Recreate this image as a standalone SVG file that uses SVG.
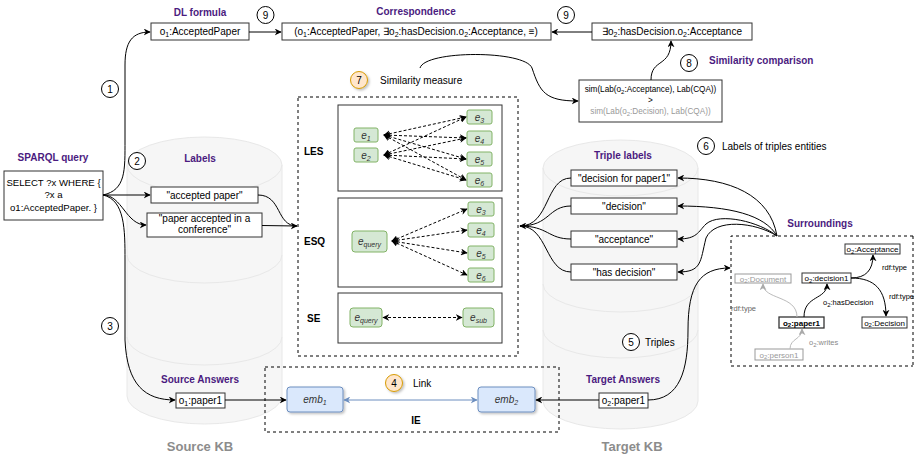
<svg xmlns="http://www.w3.org/2000/svg" width="915" height="462" viewBox="0 0 915 462">
<defs>
<marker id="a" viewBox="0 0 10 10" refX="9" refY="5" markerWidth="7" markerHeight="7" orient="auto-start-reverse"><path d="M0,0 L10,5 L0,10 L3,5 Z" fill="#000"/></marker>
<marker id="ag" viewBox="0 0 10 10" refX="9" refY="5" markerWidth="7" markerHeight="7" orient="auto-start-reverse"><path d="M0,0 L10,5 L0,10 L3,5 Z" fill="#aaa"/></marker>
<marker id="ab" viewBox="0 0 10 10" refX="9" refY="5" markerWidth="7" markerHeight="7" orient="auto-start-reverse"><path d="M0,0 L10,5 L0,10 L3,5 Z" fill="#6c8ebf"/></marker>
<filter id="sh" x="-20%" y="-20%" width="150%" height="150%"><feDropShadow dx="1.5" dy="1.5" stdDeviation="1" flood-opacity="0.25"/></filter>
</defs>
<style>
text{font-family:"Liberation Sans",Arial,sans-serif;font-size:10px;fill:#000}
.h{font-weight:bold;fill:#4b1b80}
.b{font-weight:bold}
.kb{font-weight:bold;font-size:13px;fill:#8c8c8c}
.box{fill:#fff;stroke:#333;stroke-width:1}
.gbox{fill:#fff;stroke:#999;stroke-width:1}
.cyl{fill:#f6f6f6;stroke:#e8e8e8;stroke-width:1}
.ring{fill:none;stroke:#e8e8e8;stroke-width:1}
.dash{fill:none;stroke:#000;stroke-width:1;stroke-dasharray:3,3}
.grn{fill:#d5e8d4;stroke:#82b366;stroke-width:1}
.blu{fill:#dae8fc;stroke:#6c8ebf;stroke-width:1}
.c{fill:#fff;stroke:#000;stroke-width:1}
.co{fill:#ffe6cc;stroke:#d79b00;stroke-width:1}
.e{font-style:italic;fill:#333}
.s{font-size:8px}
.t{font-size:7.5px}
.sim{font-size:8.2px}
.q{font-size:9.6px}
.g{fill:#999}
.ln{fill:none;stroke:#000;stroke-width:1}
.dl{fill:none;stroke:#000;stroke-width:1;stroke-dasharray:3,2}
.mid{text-anchor:middle}
</style>

<g id="source-kb">
<path class="cyl" d="M127,165 A77.5,28 0 0 1 282,165 L282,396 A77.5,28 0 0 1 127,396 Z"/>
<path class="ring" d="M127,165 A77.5,28 0 0 0 282,165"/>
<path class="ring" d="M127,255 A77.5,28 0 0 0 282,255"/>
<path class="ring" d="M127,337 A77.5,28 0 0 0 282,337"/>
<text class="kb mid" x="200" y="451">Source KB</text>
</g>
<g id="target-kb">
<path class="cyl" d="M543,168 A77.5,28 0 0 1 698,168 L698,401 A77.5,28 0 0 1 543,401 Z"/>
<path class="ring" d="M543,168 A77.5,28 0 0 0 698,168"/>
<path class="ring" d="M543,284 A77.5,28 0 0 0 698,284"/>
<path class="ring" d="M543,330 A77.5,28 0 0 0 698,330"/>
<text class="kb mid" x="632" y="451">Target KB</text>
</g>

<g id="dl-formula">
<text class="h mid" x="200" y="16">DL formula</text>
<rect class="box" x="151" y="23" width="98" height="17"/>
<text class="mid" x="200" y="35">o<tspan font-size="7" dy="2">1</tspan><tspan dy="-2">:AcceptedPaper</tspan></text>
</g>
<g id="correspondence">
<text class="h mid" x="416" y="15">Correspondence</text>
<rect class="box" x="282" y="23" width="269" height="17"/>
<text class="mid" x="416" y="35">(o<tspan font-size="7" dy="2">1</tspan><tspan dy="-2">:AcceptedPaper, ∃o</tspan><tspan font-size="7" dy="2">2</tspan><tspan dy="-2">:hasDecision.o</tspan><tspan font-size="7" dy="2">2</tspan><tspan dy="-2">:Acceptance, ≡)</tspan></text>
</g>
<g id="exists-formula">
<rect class="box" x="592" y="23" width="160" height="17"/>
<text class="mid" x="672" y="35">∃o<tspan font-size="7" dy="2">2</tspan><tspan dy="-2">:hasDecision.o</tspan><tspan font-size="7" dy="2">2</tspan><tspan dy="-2">:Acceptance</tspan></text>
</g>
<g id="similarity-comparison">
<text class="h" x="709" y="64">Similarity comparison</text>
<rect class="box" x="579" y="80" width="143" height="42"/>
<text class="mid sim" x="650.5" y="92">sim(Lab(o<tspan font-size="6" dy="1.5">2</tspan><tspan dy="-1.5">:Acceptance), Lab(CQA))</tspan></text>
<text class="mid sim" x="650.5" y="103">&gt;</text>
<text class="mid g sim" x="650.5" y="114">sim(Lab(o<tspan font-size="6" dy="1.5">2</tspan><tspan dy="-1.5">:Decision), Lab(CQA))</tspan></text>
</g>
<g id="sparql-query">
<text class="h mid" x="53" y="161">SPARQL query</text>
<rect class="box" x="4" y="171" width="99" height="49"/>
<text class="mid q" x="53.5" y="186">SELECT ?x WHERE {</text>
<text class="mid q" x="53.5" y="198">?x a</text>
<text class="mid q" x="53.5" y="211">o1:AcceptedPaper. }</text>
</g>
<g id="labels">
<text class="h mid" x="200" y="162">Labels</text>
<rect class="box" x="151" y="187" width="107" height="16"/>
<text class="mid" x="204.5" y="198.5">"accepted paper"</text>
<rect class="box" x="147" y="213" width="115" height="24"/>
<text class="mid" x="204.5" y="222">"paper accepted in a</text>
<text class="mid" x="204.5" y="233">conference"</text>
</g>
<g id="source-answers">
<text class="h mid" x="200" y="383">Source Answers</text>
<rect class="box" x="176" y="393" width="49" height="15"/>
<text class="mid" x="200.5" y="404">o<tspan font-size="7" dy="2">1</tspan><tspan dy="-2">:paper1</tspan></text>
</g>
<g id="similarity-measure">
<rect class="dash" x="298" y="97" width="220" height="259"/>
<g id="les">
<rect class="box" x="338" y="105" width="164" height="86"/>
<text class="b" x="304" y="155">LES</text>
<rect class="grn" x="354" y="128" width="24" height="14" rx="2"/>
<text class="e mid" x="366" y="138.5">e<tspan font-size="7" dy="2">1</tspan></text>
<rect class="grn" x="354" y="148" width="24" height="14" rx="2"/>
<text class="e mid" x="366" y="158.5">e<tspan font-size="7" dy="2">2</tspan></text>
<rect class="grn" x="467" y="110" width="25" height="14" rx="2"/>
<text class="e mid" x="479.5" y="120.5">e<tspan font-size="7" dy="2">3</tspan></text>
<rect class="grn" x="467" y="131" width="25" height="14" rx="2"/>
<text class="e mid" x="479.5" y="141.5">e<tspan font-size="7" dy="2">4</tspan></text>
<rect class="grn" x="467" y="152" width="25" height="14" rx="2"/>
<text class="e mid" x="479.5" y="162.5">e<tspan font-size="7" dy="2">5</tspan></text>
<rect class="grn" x="467" y="173" width="25" height="14" rx="2"/>
<text class="e mid" x="479.5" y="183.5">e<tspan font-size="7" dy="2">6</tspan></text>
</g>
<g id="esq">
<rect class="box" x="338" y="198" width="164" height="89"/>
<text class="b" x="304" y="245">ESQ</text>
<rect class="grn" x="352" y="231" width="35" height="21" rx="3"/>
<text class="e mid" x="369.5" y="244.5">e<tspan font-size="7" dy="2">query</tspan></text>
<rect class="grn" x="468" y="202" width="26" height="14" rx="2"/>
<text class="e mid" x="481" y="212.5">e<tspan font-size="7" dy="2">3</tspan></text>
<rect class="grn" x="468" y="223" width="26" height="14" rx="2"/>
<text class="e mid" x="481" y="233.5">e<tspan font-size="7" dy="2">4</tspan></text>
<rect class="grn" x="468" y="246" width="26" height="14" rx="2"/>
<text class="e mid" x="481" y="256.5">e<tspan font-size="7" dy="2">5</tspan></text>
<rect class="grn" x="468" y="268" width="26" height="14" rx="2"/>
<text class="e mid" x="481" y="278.5">e<tspan font-size="7" dy="2">6</tspan></text>
</g>
<g id="se">
<rect class="box" x="338" y="293" width="164" height="50"/>
<text class="b" x="307" y="322">SE</text>
<rect class="grn" x="350" y="308" width="32" height="19" rx="3"/>
<text class="e mid" x="366" y="320.5">e<tspan font-size="7" dy="2">query</tspan></text>
<rect class="grn" x="463" y="308" width="31" height="19" rx="3"/>
<text class="e mid" x="478.5" y="320.5">e<tspan font-size="7" dy="2">sub</tspan></text>
</g>
</g>
<g id="ie">
<rect class="dash" x="265" y="367" width="294" height="65"/>
<text class="b mid" x="416" y="424">IE</text>
<rect class="blu" x="287" y="387" width="56" height="25" rx="3" filter="url(#sh)"/>
<text class="e mid" x="315" y="403">emb<tspan font-size="7" dy="2">1</tspan></text>
<rect class="blu" x="478" y="387" width="57" height="25" rx="3" filter="url(#sh)"/>
<text class="e mid" x="506.5" y="403">emb<tspan font-size="7" dy="2">2</tspan></text>
<text x="413" y="387">Link</text>
</g>
<g id="target-answers">
<text class="h mid" x="623" y="383">Target Answers</text>
<rect class="box" x="599" y="393" width="49" height="15"/>
<text class="mid" x="623.5" y="404">o<tspan font-size="7" dy="2">2</tspan><tspan dy="-2">:paper1</tspan></text>
</g>
<g id="triple-labels">
<text class="h mid" x="623" y="159">Triple labels</text>
<rect class="box" x="571" y="170" width="106" height="16"/>
<text class="mid" x="624" y="181.5">"decision for paper1"</text>
<rect class="box" x="571" y="198" width="106" height="16"/>
<text class="mid" x="624" y="209.5">"decision"</text>
<rect class="box" x="571" y="231" width="106" height="16"/>
<text class="mid" x="624" y="242.5">"acceptance"</text>
<rect class="box" x="571" y="264" width="106" height="16"/>
<text class="mid" x="624" y="275.5">"has decision"</text>
</g>
<g id="surroundings">
<text class="h mid" x="820" y="227">Surroundings</text>
<path class="dash" d="M913,236 L731,236 L731,366 L913,366"/>
<path d="M913,236 L913,366" fill="none" stroke="#000" stroke-dasharray="3,3"/>
<rect class="box" x="845" y="244" width="55" height="10"/>
<text class="s mid" x="872.5" y="252">o<tspan font-size="6" dy="1.5">2</tspan><tspan dy="-1.5">:Acceptance</tspan></text>
<rect class="gbox" x="735" y="274" width="56" height="9"/>
<text class="s mid g" x="763" y="281.5">o<tspan font-size="6" dy="1.5">2</tspan><tspan dy="-1.5">:Document</tspan></text>
<rect class="box" x="802" y="273" width="49" height="10"/>
<text class="s mid" x="826.5" y="281">o<tspan font-size="6" dy="1.5">2</tspan><tspan dy="-1.5">:decision1</tspan></text>
<rect class="box" x="779" y="317" width="45" height="11" style="stroke-width:1.3"/>
<text class="s mid b" x="801.5" y="325.5">o<tspan font-size="6" dy="1.5">2</tspan><tspan dy="-1.5">:paper1</tspan></text>
<rect class="box" x="862" y="317" width="45" height="11"/>
<text class="s mid" x="884.5" y="325.5">o<tspan font-size="6" dy="1.5">2</tspan><tspan dy="-1.5">:Decision</tspan></text>
<rect class="gbox" x="755" y="349" width="48" height="11"/>
<text class="s mid g" x="779" y="357.5">o<tspan font-size="6" dy="1.5">2</tspan><tspan dy="-1.5">:person1</tspan></text>
<text class="t" x="882" y="270">rdf:type</text>
<text class="t" x="889" y="299">rdf:type</text>
<text class="t" x="823" y="305">o<tspan font-size="6" dy="1.5">2</tspan><tspan dy="-1.5">:hasDecision</tspan></text>
<text class="t" x="731" y="311" style="fill:#666">rdf:type</text>
<text class="t" x="809" y="345" style="fill:#888">o<tspan font-size="6" dy="1.5">2</tspan><tspan dy="-1.5">:writes</tspan></text>
<path class="ln" d="M804,317 C804,295 827,300 827,284" marker-end="url(#a)"/>
<path class="ln" d="M851,278 C866,278 873,270 873,255" marker-end="url(#a)"/>
<path class="ln" d="M851,278 C875,278 886,290 886,316" marker-end="url(#a)"/>
<path d="M797,317 C797,295 763,300 763,284" fill="none" stroke="#bbb" marker-end="url(#ag)"/>
<path d="M790,349 C790,338 802,340 802,329" fill="none" stroke="#bbb" marker-end="url(#ag)"/>
</g>
<g id="annotations">
<circle class="c" cx="265.5" cy="15" r="8.5"/><text class="mid" x="265.5" y="18.5">9</text>
<circle class="c" cx="566" cy="15" r="8.5"/><text class="mid" x="566" y="18.5">9</text>
<circle class="c" cx="110" cy="89" r="8.5"/><text class="mid" x="110" y="92.5">1</text>
<circle class="c" cx="137" cy="161" r="8.5"/><text class="mid" x="137" y="164.5">2</text>
<circle class="c" cx="110" cy="326" r="8.5"/><text class="mid" x="110" y="329.5">3</text>
<circle class="c" cx="706" cy="146" r="8.5"/><text class="mid" x="706" y="149.5">6</text>
<text x="722" y="149.5">Labels of triples entities</text>
<circle class="c" cx="689" cy="63" r="8.5"/><text class="mid" x="689" y="66.5">8</text>
<circle class="c" cx="631" cy="342" r="8.5"/><text class="mid" x="631" y="345.5">5</text>
<text x="645" y="345.5">Triples</text>
<circle class="co" cx="359" cy="80" r="8.5" filter="url(#sh)"/><text class="mid" x="359" y="83.5">7</text>
<text x="380" y="83.5">Similarity measure</text>
<circle class="co" cx="394" cy="383" r="8.5" filter="url(#sh)"/><text class="mid" x="394" y="386.5">4</text>
</g>
<g id="connectors">
<path class="ln" d="M249,32 L281,32" marker-end="url(#a)"/>
<path class="ln" d="M592,32 L552,32" marker-end="url(#a)"/>
<path class="ln" d="M651,80 C651,58 671,68 671,41" marker-end="url(#a)"/>
<path class="ln" d="M420,68 C425,50 525,50 532,68 C540,92 545,101 578,101" marker-end="url(#a)"/>
<path class="ln" d="M103,195 C126,190 125,170 125,140 L125,65 C125,42 132,32 150,32" marker-end="url(#a)"/>
<path class="ln" d="M103,195 L150,195" marker-end="url(#a)"/>
<path class="ln" d="M103,195 C122,195 126,225 146,225" marker-end="url(#a)"/>
<path class="ln" d="M103,195 C125,200 125,230 125,260 L125,340 C127,385 145,400 175,400" marker-end="url(#a)"/>
<path class="ln" d="M258,195 C282,195 276,226 297,226" marker-end="url(#a)"/>
<path class="ln" d="M262,225.5 L297,226"/>
<path class="ln" d="M225,400 L286,400" marker-end="url(#a)"/>
<path class="ln" d="M599,400 L536,400" marker-end="url(#a)"/>
<path d="M344,400 L477,400" fill="none" stroke="#6c8ebf" marker-start="url(#ab)" marker-end="url(#ab)"/>
<path class="ln" d="M571,178 C545,178 550,226 520,226" marker-end="url(#a)"/>
<path class="ln" d="M571,206 C548,206 550,226 520,226"/>
<path class="ln" d="M571,239 C548,239 548,226 520,226"/>
<path class="ln" d="M571,272 C545,272 548,226 520,226"/>
<path class="ln" d="M777,236 C770,195 730,178 678,178" marker-end="url(#a)"/>
<path class="ln" d="M777,236 C765,215 730,206 678,206" marker-end="url(#a)"/>
<path class="ln" d="M777,236 C760,222 720,212 706,224 C698,232 697,239 678,239" marker-end="url(#a)"/>
<path class="ln" d="M777,236 C755,222 715,218 706,238 C700,262 702,272 678,272" marker-end="url(#a)"/>
<path class="ln" d="M648,400 C680,400 688,370 688,330 C688,285 700,268 730,268" marker-end="url(#a)"/>
<path class="dl" d="M384,135 L466,117" marker-start="url(#a)" marker-end="url(#a)"/>
<path class="dl" d="M384,135 L466,138" marker-start="url(#a)" marker-end="url(#a)"/>
<path class="dl" d="M384,135 L466,159" marker-start="url(#a)" marker-end="url(#a)"/>
<path class="dl" d="M384,135 L466,180" marker-start="url(#a)" marker-end="url(#a)"/>
<path class="dl" d="M384,155 L466,117" marker-start="url(#a)" marker-end="url(#a)"/>
<path class="dl" d="M384,155 L466,138" marker-start="url(#a)" marker-end="url(#a)"/>
<path class="dl" d="M384,155 L466,159" marker-start="url(#a)" marker-end="url(#a)"/>
<path class="dl" d="M384,155 L466,180" marker-start="url(#a)" marker-end="url(#a)"/>
<path class="dl" d="M392,241 L467,209" marker-start="url(#a)" marker-end="url(#a)"/>
<path class="dl" d="M392,241 L467,230" marker-start="url(#a)" marker-end="url(#a)"/>
<path class="dl" d="M392,241 L467,253" marker-start="url(#a)" marker-end="url(#a)"/>
<path class="dl" d="M392,241 L467,275" marker-start="url(#a)" marker-end="url(#a)"/>
<path class="dl" d="M383,317.5 L462,317.5" marker-start="url(#a)" marker-end="url(#a)"/>
</g>
</svg>
